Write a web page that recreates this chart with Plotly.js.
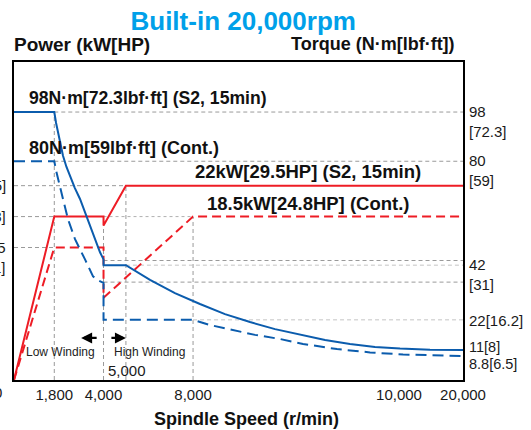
<!DOCTYPE html>
<html>
<head>
<meta charset="utf-8">
<script src="https://cdn.plot.ly/plotly-3.0.1.min.js"></script>
<style>html,body{margin:0;padding:0;background:#fff;}#chart{width:531px;height:430px;}</style>
</head>
<body>
<div id="chart"></div>
<script>
// ---- data (spindle speed in r/min, power in kW, torque in N·m) ----
const powerS2Speed   = [0, 1800, 4000, 4000, 5000, 20000];
const powerS2Kw      = [0, 18.5, 18.5, 17.5, 22, 22];
const powerContSpeed = [0, 1800, 4000, 4000, 8000, 20000];
const powerContKw    = [0, 15, 15, 9.3, 18.5, 18.5];

const torqueS2Speed  = [0, 1800, 1880, 1966, 2070, 2189, 2340, 2502, 2720, 2949, 3170, 3396, 3620, 3843, 4000, 4000, 5000, 6076, 7190, 8067, 8310, 8553, 8796, 9039, 9282, 9524, 9767, 10161, 14850, 20000];
const torqueS2Nm     = [98, 98, 94.0, 90.8, 86.2, 82.0, 78.0, 74.6, 70.2, 66.2, 61.2, 56.3, 51.4, 46.7, 44.1, 42, 42, 36.6, 31.8, 27.8, 24.1, 21.2, 18.6, 16.5, 14.6, 13.2, 12.1, 11.5, 11.1, 11];
const torqueContSpeed= [0, 1800, 1880, 1966, 2070, 2189, 2413, 2726, 3172, 3530, 3800, 4000, 4000, 8000, 8165, 8388, 8602, 8845, 9068, 9398, 9719, 10633, 15944, 20000];
const torqueContNm   = [80, 80, 76.6, 73.5, 69.8, 66.2, 58.8, 51.5, 44.1, 37.9, 36.3, 35.5, 22, 22, 20.1, 18.3, 16.5, 15.0, 13.2, 11.3, 10.1, 9.3, 9.0, 8.8];

const xTickSpeeds = [1800, 4000, 8000, 10000, 20000];
const xTickLabels = ['1,800', '4,000', '8,000', '10,000', '20,000'];
const torqueTickValues = [98, 80, 42, 22, 11, 8.8];
const torqueTickLabels = ['98<br>[72.3]', '80<br>[59]', '42<br>[31]', '22[16.2]', '11[8]', '8.8[6.5]'];
const powerTickValues = [22, 18.5, 15];
const powerTickLabels = ['22[29.5]', '18.5[24.8]', '15<br>[20.1]'];

// broken speed axis (linear to 8,000, compressed beyond)
const BREAK_SPEED = [0, 8000, 10000, 20000];
const BREAK_POS   = [0, 8000, 17200, 20060];
function pos(s) {
  for (let i = 0; i < BREAK_SPEED.length - 1; i++) {
    if (s <= BREAK_SPEED[i + 1]) {
      const t = (s - BREAK_SPEED[i]) / (BREAK_SPEED[i + 1] - BREAK_SPEED[i]);
      return BREAK_POS[i] + t * (BREAK_POS[i + 1] - BREAK_POS[i]);
    }
  }
  return BREAK_POS[BREAK_POS.length - 1];
}

const FONT = 'Arial, "Liberation Sans", sans-serif';
const RED = '#ee1c25', BLUE = '#0b5cad';

const traces = [
  {x: powerS2Speed.map(pos), y: powerS2Kw, yaxis: 'y', mode: 'lines', line: {color: RED, width: 2}, hoverinfo: 'skip'},
  {x: powerContSpeed.map(pos), y: powerContKw, yaxis: 'y', mode: 'lines', line: {color: RED, width: 2, dash: '9px,5px'}, hoverinfo: 'skip'},
  {x: torqueS2Speed.map(pos), y: torqueS2Nm, yaxis: 'y2', mode: 'lines', line: {color: BLUE, width: 2}, hoverinfo: 'skip'},
  {x: torqueContSpeed.map(pos), y: torqueContNm, yaxis: 'y2', mode: 'lines', line: {color: BLUE, width: 2, dash: '11px,6px'}, hoverinfo: 'skip'}
];

const G1 = {color: '#9a9a9a', width: 1, dash: '4px,3px'};
const G2 = {color: '#c4c4c4', width: 1, dash: '4px,3px'};
function hline(yref, y, s0, s1, line) { return {type: 'line', xref: 'x', yref: yref, x0: pos(s0), x1: pos(s1), y0: y, y1: y, line: line, layer: 'below'}; }
function vline(yref, s, y0, y1, line) { return {type: 'line', xref: 'x', yref: yref, x0: pos(s), x1: pos(s), y0: y0, y1: y1, line: line, layer: 'below'}; }

const shapes = [
  vline('y2', 1800, 0, 98, G1),
  vline('y', 4000, 0, 18.5, G1),
  vline('y', 5000, 0, 22, G1),
  vline('y', 8000, 0, 18.5, G1),
  hline('y2', 98, 1800, 20000, G1),
  hline('y2', 80, 1800, 20000, G1),
  hline('y', 22, 0, 5000, G1),
  hline('y', 18.5, 0, 1800, G1),
  hline('y', 18.5, 4000, 8000, {color: '#b0b0b0', width: 1, dash: 'dot'}),
  hline('y', 15, 0, 1800, G1),
  hline('y2', 43.7, 4000, 20000, G1),
  hline('y2', 42, 5000, 20000, G2),
  hline('y2', 35.8, 4000, 20000, G1),
  hline('y2', 22, 8000, 20000, G2)
];

const annotations = [];
function txt(text, x, y, opts) {
  annotations.push(Object.assign({text: text, x: x, y: y, showarrow: false, font: {family: FONT, size: 15, color: '#1a1a1a'}}, opts));
}
const bold = (s) => ({family: FONT, size: s, color: '#111', weight: 'bold'});
// headings
txt('Power (kW[HP)', 0, 1.0566, {xref: 'paper', yref: 'paper', xanchor: 'left', yanchor: 'middle', xshift: -2, font: bold(19)});
txt('Torque (N·m[lbf·ft])', 0.9866, 1.0566, {xref: 'paper', yref: 'paper', xanchor: 'right', yanchor: 'middle', font: bold(18)});
txt('Spindle Speed (r/min)', 0.517, -0.1226, {xref: 'paper', yref: 'paper', xanchor: 'center', yanchor: 'middle', font: bold(18)});
// curve labels
txt('98N·m[72.3lbf·ft] (S2, 15min)', pos(580), 103.1, {xref: 'x', yref: 'y2', xanchor: 'left', yanchor: 'middle', font: bold(17.6)});
txt('80N·m[59lbf·ft] (Cont.)', pos(580), 84.8, {xref: 'x', yref: 'y2', xanchor: 'left', yanchor: 'middle', font: bold(18)});
txt('22kW[29.5HP] (S2, 15min)', pos(8000), 76.1, {xref: 'x', yref: 'y2', xanchor: 'left', yanchor: 'middle', font: bold(18.5)});
txt('18.5kW[24.8HP] (Cont.)', 8534, 64.7, {xref: 'x', yref: 'y2', xanchor: 'left', yanchor: 'middle', font: bold(18.5)});
txt('Low Winding', pos(450), 10.2, {xref: 'x', yref: 'y2', xanchor: 'left', yanchor: 'middle', font: {family: FONT, size: 12, color: '#222'}});
txt('High Winding', pos(4400), 10.2, {xref: 'x', yref: 'y2', xanchor: 'left', yanchor: 'middle', font: {family: FONT, size: 12, color: '#222'}});
txt('5,000', pos(4120), 3.3, {xref: 'x', yref: 'y2', xanchor: 'left', yanchor: 'middle', font: {family: FONT, size: 15, color: '#1a1a1a'}});
// winding arrows
annotations.push({x: pos(3000), y: 15.4, xref: 'x', yref: 'y2', ax: 17, ay: 0, text: '', showarrow: true, arrowhead: 2, arrowsize: 1, arrowwidth: 2.2, arrowcolor: '#000'});
annotations.push({x: pos(5000), y: 15.4, xref: 'x', yref: 'y2', ax: -16, ay: 0, text: '', showarrow: true, arrowhead: 2, arrowsize: 1, arrowwidth: 2.2, arrowcolor: '#000'});
// right torque tick labels
torqueTickValues.forEach((v, i) => {
  const two = torqueTickLabels[i].indexOf('<br>') >= 0;
  let ys = two ? 10.5 : 0;
  if (v === 8.8) ys = -8;
  if (v === 11) ys = 3;
  if (v === 22) ys = -1;
  const sz = (v === 11 || v === 8.8) ? 14.5 : 15;
  txt(torqueTickLabels[i], 1, v, {xref: 'paper', yref: 'y2', xanchor: 'left', yanchor: two ? 'top' : 'middle', yshift: ys, xshift: 5, align: 'left', borderpad: 0, font: {family: FONT, size: sz, color: '#1a1a1a'}});
});
// left power tick labels (partly outside the picture, as in the source)
powerTickValues.forEach((v, i) => {
  const two = powerTickLabels[i].indexOf('<br>') >= 0;
  txt(powerTickLabels[i], 0, v, {xref: 'paper', yref: 'y', xanchor: 'right', yanchor: two ? 'top' : 'middle', yshift: two ? 10.5 : 0, xshift: -6, align: 'right'});
});
txt('0', 0, -0.04, {xref: 'paper', yref: 'paper', xanchor: 'right', yanchor: 'middle', xshift: -10});

const layout = {
  width: 531, height: 430,
  margin: {l: 14, r: 68, t: 62, b: 50},
  paper_bgcolor: '#fff', plot_bgcolor: '#fff',
  showlegend: false,
  title: {text: 'Built-in 20,000rpm', x: 0.458, xref: 'container', xanchor: 'center', y: 0.951, yref: 'container', yanchor: 'middle', font: {family: FONT, size: 26, color: '#00a0e9', weight: 'bold'}},
  xaxis: {range: [0, 20060], showgrid: false, zeroline: false, showline: true, mirror: true, linecolor: '#000', linewidth: 2,
          tickmode: 'array', tickvals: xTickSpeeds.map(pos), ticktext: xTickLabels, ticks: '', tickfont: {family: FONT, size: 15, color: '#1a1a1a'}, fixedrange: true},
  yaxis: {range: [0, 36.0], showgrid: false, zeroline: false, showline: true, mirror: true, linecolor: '#000', linewidth: 2, showticklabels: false, ticks: ''},
  yaxis2: {range: [0, 116.3], overlaying: 'y', side: 'right', showgrid: false, zeroline: false, showline: false, showticklabels: false, ticks: ''},
  shapes: shapes,
  annotations: annotations
};

Plotly.newPlot('chart', traces, layout, {staticPlot: true, displayModeBar: false});
</script>
</body>
</html>
